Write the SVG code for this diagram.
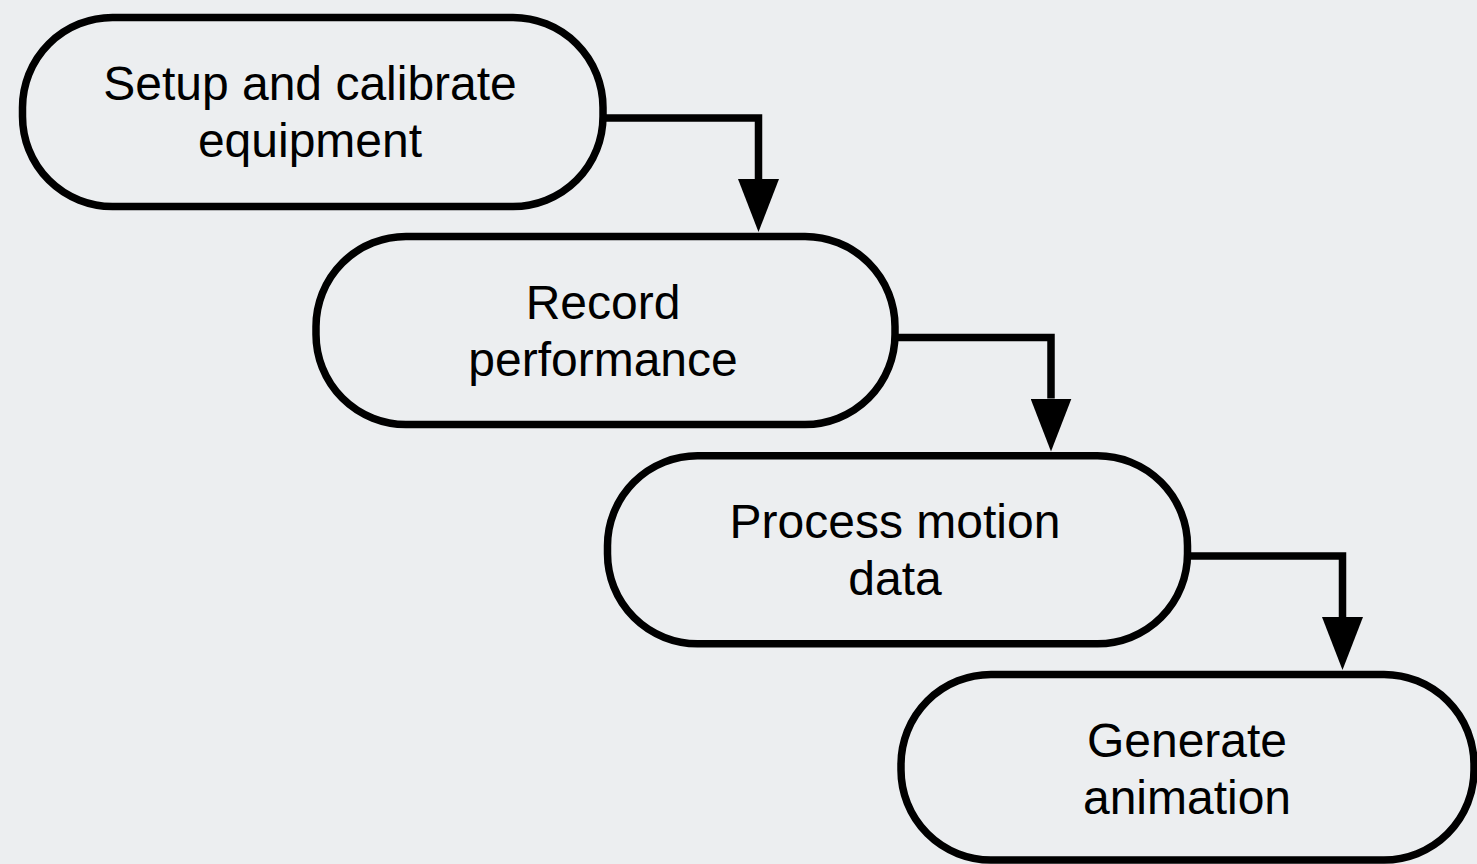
<svg xmlns="http://www.w3.org/2000/svg" width="1477" height="864" viewBox="0 0 1477 864">
  <defs>
    <marker id="arrow" markerUnits="userSpaceOnUse" markerWidth="53" markerHeight="41" viewBox="0 0 53 41" refX="0" refY="20.5" orient="auto">
      <path d="M0,0 L53,20.5 L0,41 Z" fill="#000"/>
    </marker>
    <style>
      .node { fill: none; stroke: #000; stroke-width: 7.5; }
      .label { font-family: "Liberation Sans", Arial, Helvetica, sans-serif; font-size: 48px; fill: #000; text-anchor: middle; }
      .conn { fill: none; stroke: #000; stroke-width: 7.5; stroke-linejoin: miter; }
    </style>
  </defs>
  <rect x="0" y="0" width="1477" height="864" fill="#eceef0"/>

  <g id="connectors">
    <path class="conn" d="M603,118 H758.5 V179" marker-end="url(#arrow)"/>
    <path class="conn" d="M895,337.5 H1051 V398.5" marker-end="url(#arrow)"/>
    <path class="conn" d="M1187.5,556 H1342.5 V617" marker-end="url(#arrow)"/>
  </g>

  <g id="node-setup">
    <rect class="node" x="22.5" y="17.5" width="580.5" height="189" rx="90" ry="90"/>
    <text class="label" x="310" y="100">Setup and calibrate</text>
    <text class="label" x="310" y="157">equipment</text>
  </g>

  <g id="node-record">
    <rect class="node" x="316" y="236.5" width="579" height="188" rx="90" ry="90"/>
    <text class="label" x="603" y="319">Record</text>
    <text class="label" x="603" y="376">performance</text>
  </g>

  <g id="node-process">
    <rect class="node" x="607.5" y="455.8" width="580" height="188" rx="90" ry="90"/>
    <text class="label" x="895" y="538">Process motion</text>
    <text class="label" x="895" y="595">data</text>
  </g>

  <g id="node-generate">
    <rect class="node" x="901" y="674.5" width="573" height="185.5" rx="90" ry="90"/>
    <text class="label" x="1187" y="757">Generate</text>
    <text class="label" x="1187" y="814">animation</text>
  </g>
</svg>
